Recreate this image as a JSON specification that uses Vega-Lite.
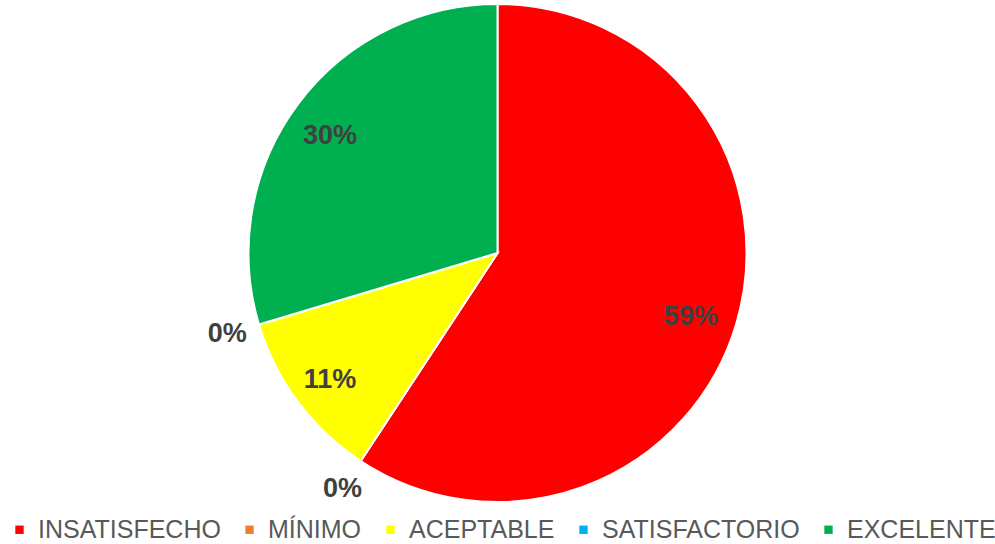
{
  "$schema": "https://vega.github.io/schema/vega-lite/v6.json",
  "width": 995,
  "height": 506,
  "padding": 0,
  "background": "white",
  "config": {"view": {"stroke": null}},
  "data": {
    "values": [
      {"nivel": "INSATISFECHO", "orden": 1, "porcentaje": 0.5926},
      {"nivel": "MÍNIMO", "orden": 2, "porcentaje": 0},
      {"nivel": "ACEPTABLE", "orden": 3, "porcentaje": 0.1111},
      {"nivel": "SATISFACTORIO", "orden": 4, "porcentaje": 0},
      {"nivel": "EXCELENTE", "orden": 5, "porcentaje": 0.2963}
    ]
  },
  "encoding": {
    "theta": {"field": "porcentaje", "type": "quantitative", "stack": true},
    "order": {"field": "orden", "type": "quantitative"}
  },
  "layer": [
    {
      "mark": {"type": "arc", "outerRadius": 249, "stroke": "white", "strokeWidth": 2},
      "encoding": {
        "color": {
          "field": "nivel",
          "type": "nominal",
          "scale": {
            "domain": ["INSATISFECHO", "MÍNIMO", "ACEPTABLE", "SATISFACTORIO", "EXCELENTE"],
            "range": ["#FF0000", "#ED7D31", "#FFFF00", "#00B0F0", "#00B050"]
          },
          "legend": {
            "title": null,
            "orient": "none",
            "legendX": 7,
            "legendY": 517,
            "direction": "horizontal",
            "columns": 5,
            "symbolType": "square",
            "symbolSize": 70,
            "symbolStrokeWidth": 0,
            "labelFont": "Liberation Sans",
            "labelFontSize": 25,
            "labelColor": "#595959",
            "labelOffset": 6,
            "columnPadding": 16,
            "labelLimit": 400
          }
        }
      }
    },
    {
      "mark": {"type": "text", "radius": 205, "dx": -3, "dy": 5, "font": "Liberation Sans", "fontSize": 27, "fontWeight": "bold", "fill": "#404040"},
      "encoding": {
        "text": {"field": "porcentaje", "type": "quantitative", "format": ".0%"},
        "opacity": {"condition": {"test": "datum.porcentaje > 0", "value": 1}, "value": 0}
      }
    },
    {
      "mark": {"type": "text", "radius": 282, "font": "Liberation Sans", "fontSize": 27, "fontWeight": "bold", "fill": "#404040"},
      "encoding": {
        "text": {"field": "porcentaje", "type": "quantitative", "format": ".0%"},
        "opacity": {"condition": {"test": "datum.porcentaje == 0", "value": 1}, "value": 0}
      }
    }
  ]
}
